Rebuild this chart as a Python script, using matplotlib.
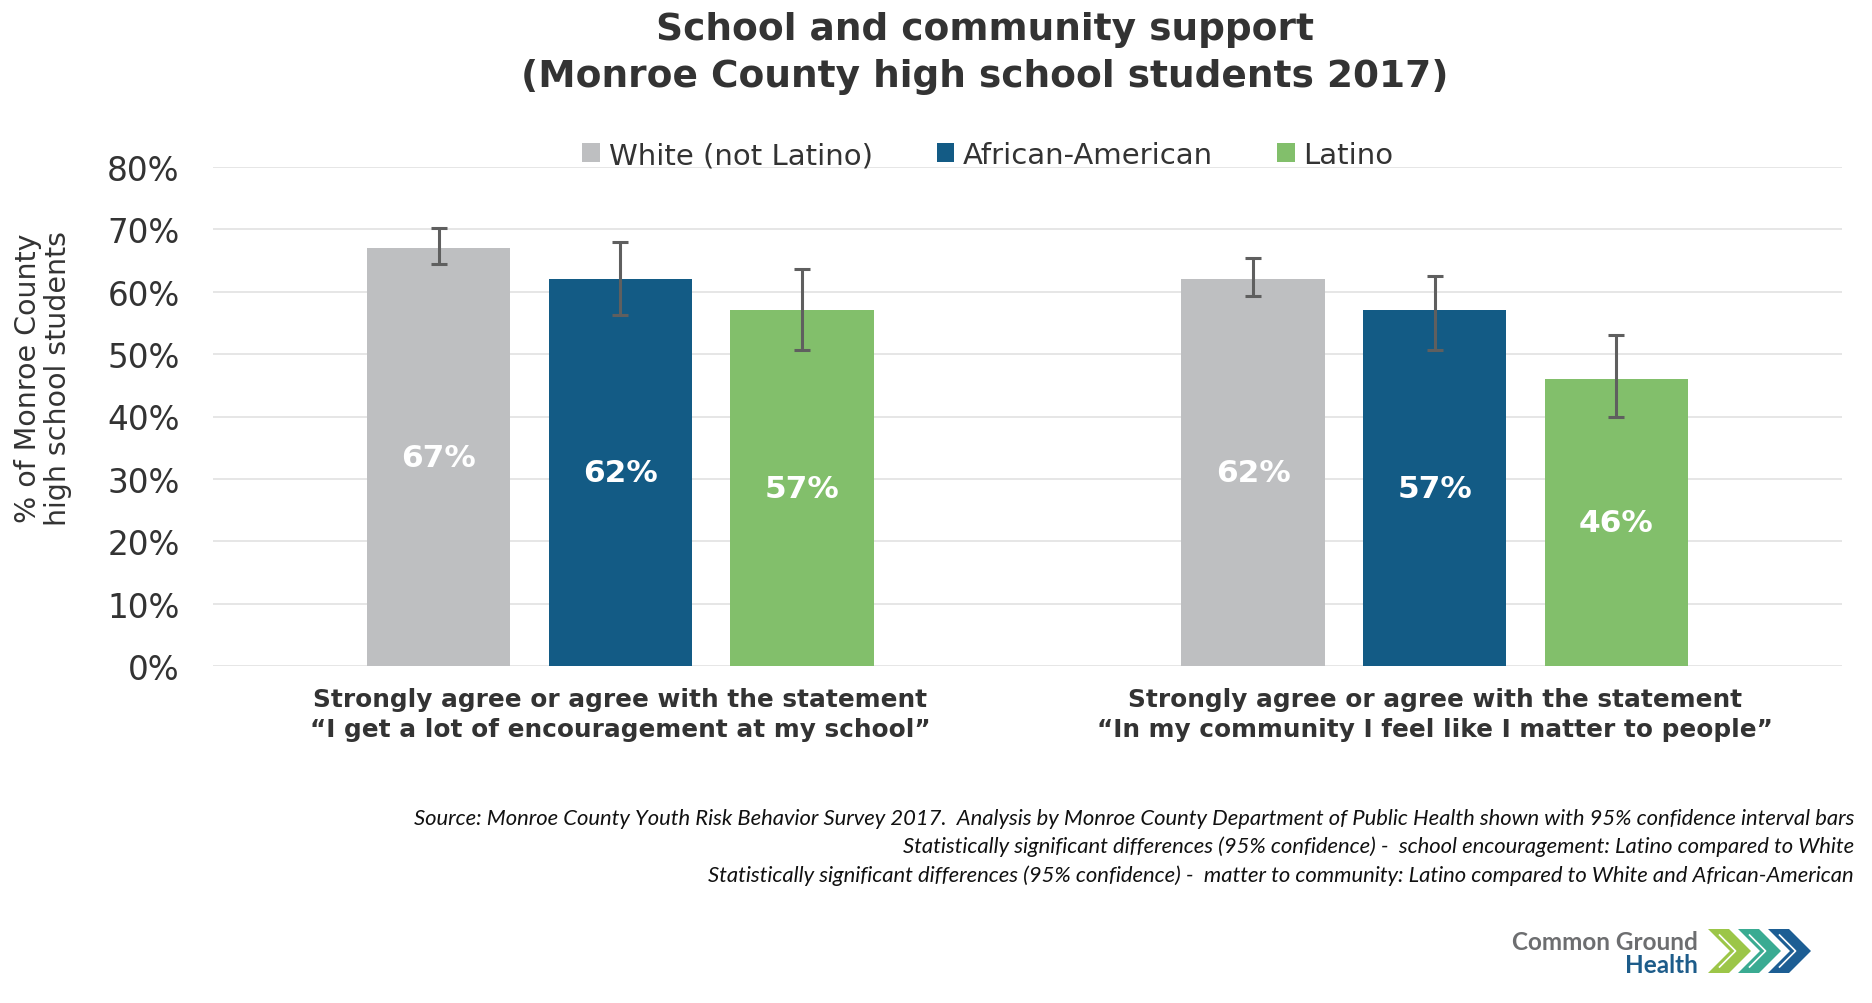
import matplotlib
matplotlib.use("Agg")
import matplotlib.pyplot as plt
import numpy as np
from matplotlib.patches import Polygon, Patch
from matplotlib.ticker import FuncFormatter

# data
CATEGORIES = [
    "Strongly agree or agree with the statement\n\u201cI get a lot of encouragement at my school\u201d",
    "Strongly agree or agree with the statement\n\u201cIn my community I feel like I matter to people\u201d",
]
GROUPS = ["White (not Latino)", "African-American", "Latino"]
WHITE = [67, 62]
AFRICAN = [62, 57]
LATINO = [57, 46]
WHITE_CI = [(64.5, 70.3), (59.3, 65.4)]
AFRICAN_CI = [(56.3, 68.0), (50.7, 62.5)]
LATINO_CI = [(50.7, 63.7), (39.9, 53.1)]
YTICKS = [0, 10, 20, 30, 40, 50, 60, 70, 80]

COLORS = ["#BEBFC1", "#135B85", "#82BF6B"]
TEXT = "#333333"
W, H = 1872, 1004

plt.rcParams["font.family"] = "DejaVu Sans"

fig = plt.figure(figsize=(W / 100, H / 100), dpi=100)
ax = fig.add_axes([213 / W, 1 - 667 / H, (1842 - 213) / W, (667 - 168) / H])

x = np.arange(len(CATEGORIES))
width = 0.176
step = 0.223
series = [WHITE, AFRICAN, LATINO]
cis = [WHITE_CI, AFRICAN_CI, LATINO_CI]

for i, (vals, ci, color) in enumerate(zip(series, cis, COLORS)):
    xs = x + (i - 1) * step
    vals = np.array(vals, dtype=float)
    lo = vals - np.array([c[0] for c in ci])
    hi = np.array([c[1] for c in ci]) - vals
    ax.bar(xs, vals, width=width, color=color, zorder=2)
    ax.errorbar(xs, vals, yerr=[lo, hi], fmt="none", ecolor="#5F5F5F",
                elinewidth=2.2, capsize=5.5, capthick=2.2, zorder=3)
    for xi, v in zip(xs, vals):
        ax.text(xi, v / 2, f"{v:.0f}%", ha="center", va="center",
                color="white", fontsize=22.5, fontweight="bold", zorder=4)

ax.set_xlim(-0.5, 1.5)
ax.set_ylim(0, 80)
ax.set_yticks(YTICKS)
ax.yaxis.set_major_formatter(FuncFormatter(lambda v, _: f"{v:.0f}%"))
ax.tick_params(axis="y", length=0, pad=24, labelsize=23.5, labelcolor=TEXT)
ax.set_xticks(x)
ax.set_xticklabels(CATEGORIES, fontsize=17.8, fontweight="bold", color=TEXT,
                   linespacing=1.3)
ax.tick_params(axis="x", length=0, pad=15)
ax.grid(True, axis="y", color="#E4E4E4", linewidth=1.3, zorder=0)
ax.set_axisbelow(True)
for s in ax.spines.values():
    s.set_visible(False)

# legend
handles = [Patch(facecolor=c, edgecolor="none") for c in COLORS]
fig.legend(handles, GROUPS, loc="center", bbox_to_anchor=(988 / W, 1 - 156 / H),
           ncol=3, frameon=False, fontsize=21, handlelength=0.6, handleheight=0.6,
           handletextpad=0.3, columnspacing=2.2, labelcolor=TEXT)

# title
fig.text(985 / W, 1 - 40 / H, "School and community support", ha="center",
         va="baseline", fontsize=27, fontweight="bold", color=TEXT)
fig.text(985 / W, 1 - 87 / H, "(Monroe County high school students 2017)",
         ha="center", va="baseline", fontsize=27, fontweight="bold", color=TEXT)

# y label
fig.text(43 / W, 1 - 378 / H, "% of Monroe County\nhigh school students",
         rotation=90, ha="center", va="center", fontsize=20.5, color=TEXT,
         linespacing=1.12, multialignment="center")

# footnotes
notes = [
    "Source: Monroe County Youth Risk Behavior Survey 2017.  Analysis by Monroe County Department of Public Health shown with 95% confidence interval bars",
    "Statistically significant differences (95% confidence) -  school encouragement: Latino compared to White",
    "Statistically significant differences (95% confidence) -  matter to community: Latino compared to White and African-American",
]
for k, line in enumerate(notes):
    fig.text(1854 / W, 1 - (825 + k * 28.5) / H, line, ha="right", va="baseline",
             fontsize=15.8, style="italic", family="Lato", color="#111111")

# logo
lax = fig.add_axes([0, 0, 1, 1], zorder=-1)
lax.set_xlim(0, W)
lax.set_ylim(H, 0)
lax.axis("off")
lax.text(1698, 950, "Common Ground", ha="right", va="baseline", fontsize=17.5,
         fontweight="bold", family="Lato", color="#6D6E70")
lax.text(1698, 973, "Health", ha="right", va="baseline", fontsize=17.5,
         fontweight="bold", family="Lato", color="#1D5C8A")
chev_colors = ["#9CC648", "#3AAB92", "#1D5E94"]
top, bot, half, t = 930, 974, 22, 21
for i, c in enumerate(chev_colors):
    x0 = 1708 + i * 30
    mid = (top + bot) / 2
    pts = [(x0, top), (x0 + t, top), (x0 + t + half, mid), (x0 + t, bot),
           (x0, bot), (x0 + half, mid)]
    lax.add_patch(Polygon(pts, closed=True, facecolor=c, edgecolor="none"))
    inner = [(x0 + t * 0.55, top + 6), (x0 + t * 0.55 + half - 6, mid),
             (x0 + t * 0.55, bot - 6)]
    lax.plot([p[0] for p in inner], [p[1] for p in inner], color="white", lw=1.2)

fig.savefig("out.png", dpi=100)
